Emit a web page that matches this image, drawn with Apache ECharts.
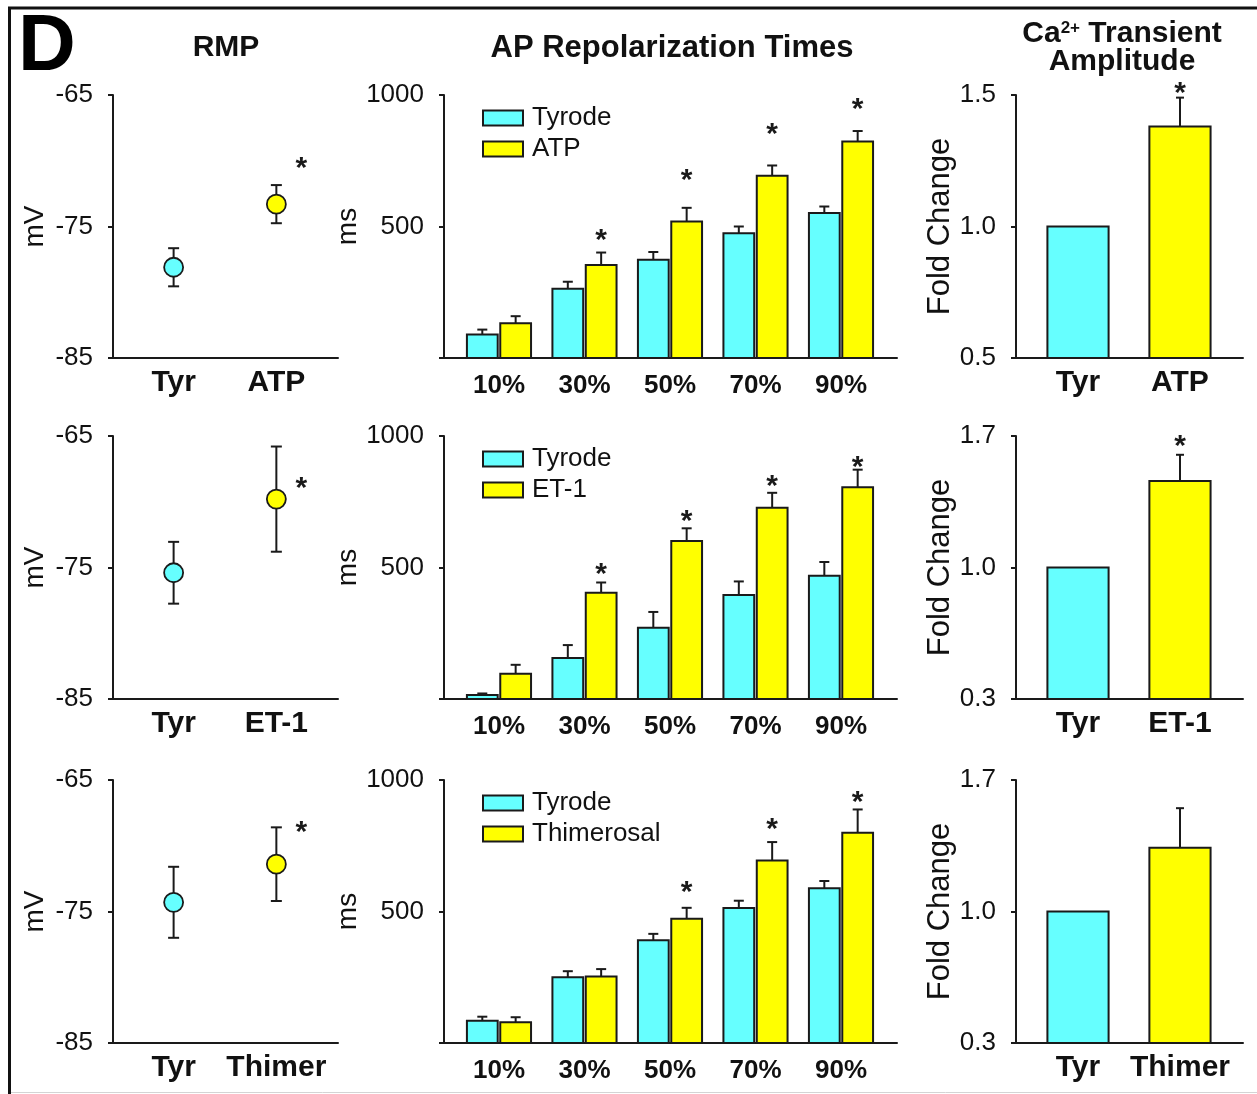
<!DOCTYPE html>
<html>
<head>
<meta charset="utf-8">
<title>RMP / AP repolarization / Ca transient</title>
<script src="https://cdn.jsdelivr.net/npm/echarts@6/dist/echarts.min.js"></script>
<style>
html, body { margin: 0; padding: 0; background: #fff; }
#fig { width: 1257px; height: 1094px; }
</style>
</head>
<body>
<div id="fig"></div>
<script>
/* data, one row per treatment (ATP, ET-1, Thimerosal) */
var rmpCats = [['Tyr', 'ATP'], ['Tyr', 'ET-1'], ['Tyr', 'Thimer']];
var rmpMean = [[-78.1, -73.3], [-75.4, -69.8], [-74.3, -71.4]];
var rmpSem = [[1.45, 1.45], [2.35, 4.0], [2.7, 2.8]];
var rmpStar = [-70.1, -68.5, -68.5];
var rmpTicks = [-85, -75, -65];

var apCats = ['10%', '30%', '50%', '70%', '90%'];
var apDrug = ['ATP', 'ET-1', 'Thimerosal'];
var apTyr = [[89, 263, 374, 474, 551], [15, 156, 271, 395, 469], [85, 250, 391, 513, 588]];
var apTyrSem = [[19, 27, 29, 26, 25], [6, 49, 60, 52, 52], [15, 23, 24, 28, 28]];
var apTrt = [[132, 354, 519, 693, 823], [96, 404, 601, 727, 805], [79, 253, 472, 694, 799]];
var apTrtSem = [[27, 47, 52, 39, 40], [34, 39, 48, 57, 67], [19, 28, 42, 70, 89]];
var apStar = [[null, 472, 700, 875, 970], [null, 500, 700, 833, 905], [null, null, 597, 838, 939]];
var apTicks = [0, 500, 1000];
var apLabels = [500, 1000];

var caCats = rmpCats;
var caMean = [[1.0, 1.38], [1.0, 1.46], [1.0, 1.34]];
var caSem = [[0, 0.11], [0, 0.14], [0, 0.21]];
var caStar = [1.53, 1.68, null];
var caTicks = [[0.5, 1.0, 1.5], [0.3, 1.0, 1.7], [0.3, 1.0, 1.7]];

/* look */
var ink = '#1a1a1a', cyan = '#66ffff', yellow = '#ffff00';
var font = '"Liberation Sans", Arial, Helvetica, sans-serif';
var rowTop = [95, 436, 780], rowH = 263;
var colLeft = [113, 444, 1016], colW = [225, 453, 227];
var xRange = [[-0.59, 1.6], [-0.643, 4.655], [-0.608, 1.618]];

function starText(x, y) {
    return {
        type: 'text', x: x, y: y + 7,
        style: { text: '*', fontSize: 30, fontWeight: 'bold', fontFamily: font, fill: ink, align: 'center', verticalAlign: 'middle' }
    };
}
function vline(x, y1, y2) {
    return { type: 'line', shape: { x1: x, y1: y1, x2: x, y2: y2 }, style: { stroke: ink, lineWidth: 2 } };
}
function hline(x1, x2, y) {
    return { type: 'line', shape: { x1: x1, y1: y, x2: x2, y2: y }, style: { stroke: ink, lineWidth: 2 } };
}

/*RMP points with error bars*/
function rmpRender(r) {
    return function (params, api) {
        var i = params.dataIndex;
        var x = api.value(0), m = api.value(1), se = api.value(2);
        var c = api.coord([x, m]);
        var hi = api.coord([x, m + se])[1], lo = api.coord([x, m - se])[1];
        var kids = [
            vline(c[0], hi, lo),
            hline(c[0] - 5.5, c[0] + 5.5, hi),
            hline(c[0] - 5.5, c[0] + 5.5, lo),
            { type: 'circle', shape: { cx: c[0], cy: c[1], r: 9.5 }, style: { fill: i ? yellow : cyan, stroke: ink, lineWidth: 1.8 } }
        ];
        if (i === 1 && rmpStar[r] != null) {
            var s = api.coord([x, rmpStar[r]]);
            kids.push(starText(s[0] + 25, s[1]));
        }
        return { type: 'group', children: kids };
    };
}

/*AP bars, k=0 Tyrode, k=1 treatment*/
function apRender(r, k) {
    var off = k ? 0.195 : -0.195;
    return function (params, api) {
        var i = params.dataIndex;
        var x = api.value(0) + off, m = api.value(1), se = api.value(2);
        var p0 = api.coord([x - 0.18, m]), p1 = api.coord([x + 0.18, 0]);
        var cx = (p0[0] + p1[0]) / 2;
        var top = api.coord([x, m + se])[1];
        var kids = [
            vline(cx, p0[1], top),
            hline(cx - 5, cx + 5, top),
            { type: 'rect', shape: { x: p0[0], y: p0[1], width: p1[0] - p0[0], height: p1[1] - p0[1] },
              style: { fill: k ? yellow : cyan, stroke: ink, lineWidth: 2 } }
        ];
        if (k && apStar[r][i] != null) {
            var s = api.coord([x, apStar[r][i]]);
            kids.push(starText(cx, s[1]));
        }
        return { type: 'group', children: kids };
    };
}

/*Ca2+ fold change bars*/
function caRender(r) {
    return function (params, api) {
        var i = params.dataIndex;
        var x = api.value(0), m = api.value(1), se = api.value(2);
        var p0 = api.coord([x - 0.3, m]), p1 = api.coord([x + 0.3, caTicks[r][0]]);
        var cx = (p0[0] + p1[0]) / 2;
        var kids = [];
        if (se > 0) {
            var top = api.coord([x, m + se])[1];
            kids.push(vline(cx, p0[1], top), hline(cx - 4, cx + 4, top));
        }
        kids.push({ type: 'rect', shape: { x: p0[0], y: p0[1], width: p1[0] - p0[0], height: p1[1] - p0[1] },
            style: { fill: i ? yellow : cyan, stroke: ink, lineWidth: 2 } });
        if (i === 1 && caStar[r] != null) {
            var s = api.coord([x, caStar[r]]);
            kids.push(starText(cx, s[1]));
        }
        return { type: 'group', children: kids };
    };
}

var grids = [], xAxes = [], yAxes = [], series = [], legends = [];
var axisLine = { show: true, onZero: false, lineStyle: { color: ink, width: 2 } };

for (var r = 0; r < 3; r++) {
    for (var c = 0; c < 3; c++) {
        var idx = r * 3 + c;
        grids.push({ left: colLeft[c], top: rowTop[r], width: colW[c], height: rowH });
        var cats = c === 0 ? rmpCats[r] : (c === 1 ? apCats : caCats[r]);
        xAxes.push({
            type: 'value', gridIndex: idx, min: xRange[c][0], max: xRange[c][1],
            axisLine: axisLine, axisTick: { show: false }, splitLine: { show: false },
            axisLabel: {
                customValues: cats.map(function (d, j) { return j; }),
                formatter: (function (cs) { return function (v) { return cs[Math.round(v)]; }; })(cats),
                fontSize: c === 1 ? 26 : 30, fontWeight: 'bold', color: '#111', fontFamily: font,
                margin: c === 1 ? 15 : 10
            }
        });
        var y = {
            type: 'value', gridIndex: idx, axisLine: axisLine, splitLine: { show: false },
            axisTick: { show: true, length: 5, lineStyle: { color: ink, width: 2 } },
            axisLabel: { fontSize: 26, color: '#111', fontFamily: font, margin: 20 },
            nameLocation: 'middle', nameTextStyle: { fontSize: 28, color: '#111', fontFamily: font }
        };
        if (c === 0) {
            y.min = -85; y.max = -65; y.name = 'mV'; y.nameGap = 64;
            y.axisTick.customValues = rmpTicks; y.axisLabel.customValues = rmpTicks;
        } else if (c === 1) {
            y.min = 0; y.max = 1000; y.name = 'ms'; y.nameGap = 68;
            y.axisTick.customValues = apTicks; y.axisLabel.customValues = apLabels;
            y.axisLabel.formatter = function (v) { return String(v); };
        } else {
            y.min = caTicks[r][0]; y.max = caTicks[r][2]; y.name = 'Fold Change'; y.nameGap = 56;
            y.nameTextStyle.fontSize = 31;
            y.axisTick.customValues = caTicks[r]; y.axisLabel.customValues = caTicks[r];
            y.axisLabel.formatter = function (v) { return v.toFixed(1); };
        }
        yAxes.push(y);
    }

    series.push({
        type: 'custom', name: 'RMP ' + apDrug[r], xAxisIndex: r * 3, yAxisIndex: r * 3,
        renderItem: rmpRender(r),
        data: rmpMean[r].map(function (m, j) { return [j, m, rmpSem[r][j]]; })
    });
    series.push({
        type: 'custom', name: 'Tyrode', xAxisIndex: r * 3 + 1, yAxisIndex: r * 3 + 1,
        renderItem: apRender(r, 0),
        data: apTyr[r].map(function (m, j) { return [j, m, apTyrSem[r][j]]; })
    });
    series.push({
        type: 'custom', name: apDrug[r], xAxisIndex: r * 3 + 1, yAxisIndex: r * 3 + 1,
        renderItem: apRender(r, 1),
        data: apTrt[r].map(function (m, j) { return [j, m, apTrtSem[r][j]]; })
    });
    series.push({
        type: 'custom', name: 'Ca ' + apDrug[r], xAxisIndex: r * 3 + 2, yAxisIndex: r * 3 + 2,
        renderItem: caRender(r),
        data: caMean[r].map(function (m, j) { return [j, m, caSem[r][j]]; })
    });

    legends.push({
        orient: 'vertical', left: 477, top: rowTop[r] + 5, itemWidth: 40, itemHeight: 15, itemGap: 5,
        selectedMode: false,
        textStyle: { fontSize: 26, color: '#111', fontFamily: font, padding: [0, 0, 0, 4] },
        data: [
            { name: 'Tyrode', icon: 'rect', itemStyle: { color: cyan, borderColor: ink, borderWidth: 2 } },
            { name: apDrug[r], icon: 'rect', itemStyle: { color: yellow, borderColor: ink, borderWidth: 2 } }
        ]
    });
}

var chart = echarts.init(document.getElementById('fig'));
chart.setOption({
    animation: false,
    backgroundColor: '#fff',
    textStyle: { fontFamily: font },
    grid: grids,
    xAxis: xAxes,
    yAxis: yAxes,
    legend: legends,
    series: series,
    graphic: [
        { type: 'line', shape: { x1: 8, y1: 8, x2: 1257, y2: 8 }, style: { stroke: '#111', lineWidth: 3 } },
        { type: 'line', shape: { x1: 9.5, y1: 7, x2: 9.5, y2: 1094 }, style: { stroke: '#111', lineWidth: 3 } },
        { type: 'line', shape: { x1: 11, y1: 1092.5, x2: 1257, y2: 1092.5 }, style: { stroke: '#d4d4d4', lineWidth: 1 } },
        { type: 'text', x: 47, y: 48, style: { text: 'D', fontSize: 80, fontWeight: 'bold', fontFamily: font, fill: '#000', align: 'center', verticalAlign: 'middle' } },
        { type: 'text', x: 226, y: 48, style: { text: 'RMP', fontSize: 30, fontWeight: 'bold', fontFamily: font, fill: '#111', align: 'center', verticalAlign: 'middle' } },
        { type: 'text', x: 672, y: 48, style: { text: 'AP Repolarization Times', fontSize: 31, fontWeight: 'bold', fontFamily: font, fill: '#111', align: 'center', verticalAlign: 'middle' } },
        { type: 'text', x: 1122, y: 48, style: {
            text: '{b|Ca}{s|2+}{b| Transient}\n{b|Amplitude}',
            align: 'center', verticalAlign: 'middle', fill: '#111',
            rich: {
                b: { fontSize: 30, fontWeight: 'bold', fontFamily: font, lineHeight: 28, fill: '#111' },
                s: { fontSize: 17, fontWeight: 'bold', fontFamily: font, lineHeight: 17, verticalAlign: 'top', fill: '#111' }
            }
        } }
    ]
});
</script>
</body>
</html>
